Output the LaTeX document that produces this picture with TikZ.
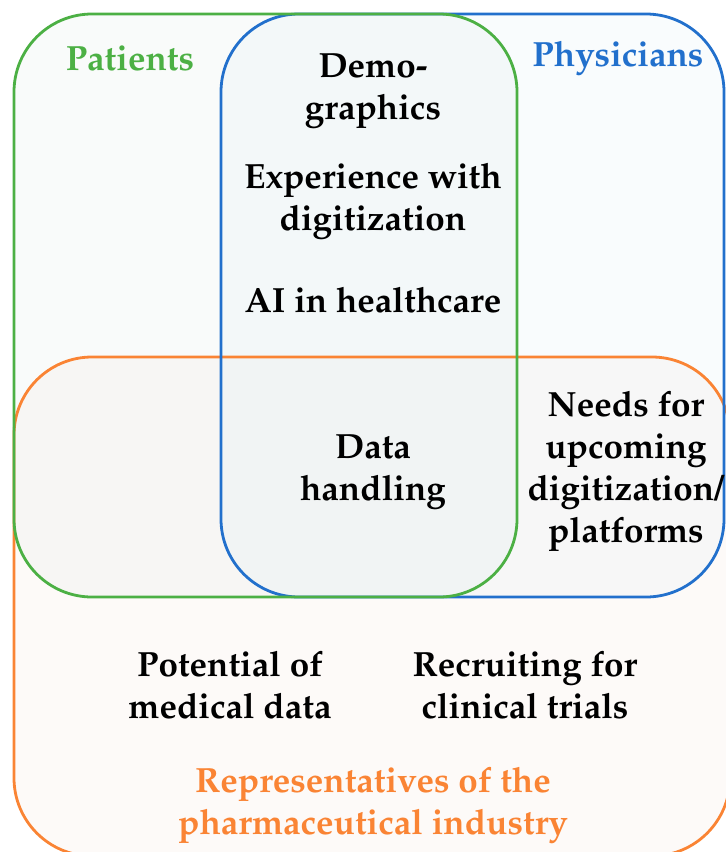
\documentclass[tikz,border=0pt]{standalone}
\usepackage[T1]{fontenc}
\renewcommand{\rmdefault}{ppl}
\begin{document}
\definecolor{patgreen}{RGB}{76,176,68}
\definecolor{phyblue}{RGB}{34,112,204}
\definecolor{pharmorange}{RGB}{250,132,52}
\definecolor{patfill}{RGB}{216,230,224}
\definecolor{phyfill}{RGB}{212,232,242}
\definecolor{pharmfill}{RGB}{242,222,214}
\begin{tikzpicture}[x=1pt,y=-1pt,
  group/.style={line width=2.8pt, rounded corners=78pt},
  label/.style={font=\fontsize{35}{42}\selectfont\bfseries, align=center, inner sep=0pt},
  item/.style={label, text=black}]
\useasboundingbox (0,0) rectangle (726,852);
\clip (0,0) rectangle (726,852);
% translucent group fills
\fill[pharmfill, fill opacity=0.16, rounded corners=78pt] (14,357) rectangle (730,856);
\fill[patfill, fill opacity=0.16, rounded corners=78pt] (14,14) rectangle (517,597);
\fill[phyfill, fill opacity=0.15, rounded corners=78pt] (221,14) rectangle (724,597);
% group outlines
\draw[group, pharmorange] (14,357) rectangle (730,856);
\draw[group, phyblue] (221,14) rectangle (724,597);
\draw[group, patgreen] (14,14) rectangle (517,597);
% group titles
\node[label, text=patgreen] (patients) at (130,58) {Patients};
\node[label, text=phyblue] (physicians) at (618,58) {Physicians};
\node[label, text=pharmorange] (pharma) at (373,805) {Representatives of the\\pharmaceutical industry};
% topics
\node[item] (demo) at (373,91) {Demo-\\graphics};
\node[item] (exp) at (373,201) {Experience with\\digitization};
\node[item] (ai) at (373,300) {AI in healthcare};
\node[item] (data) at (373,472) {Data\\handling};
\node[item] (needs) at (626,471) {Needs for\\upcoming\\digitization/\\platforms};
\node[item] (potential) at (230,685) {Potential of\\medical data};
\node[item] (recruit) at (525,685) {Recruiting for\\clinical trials};
\end{tikzpicture}
\end{document}
